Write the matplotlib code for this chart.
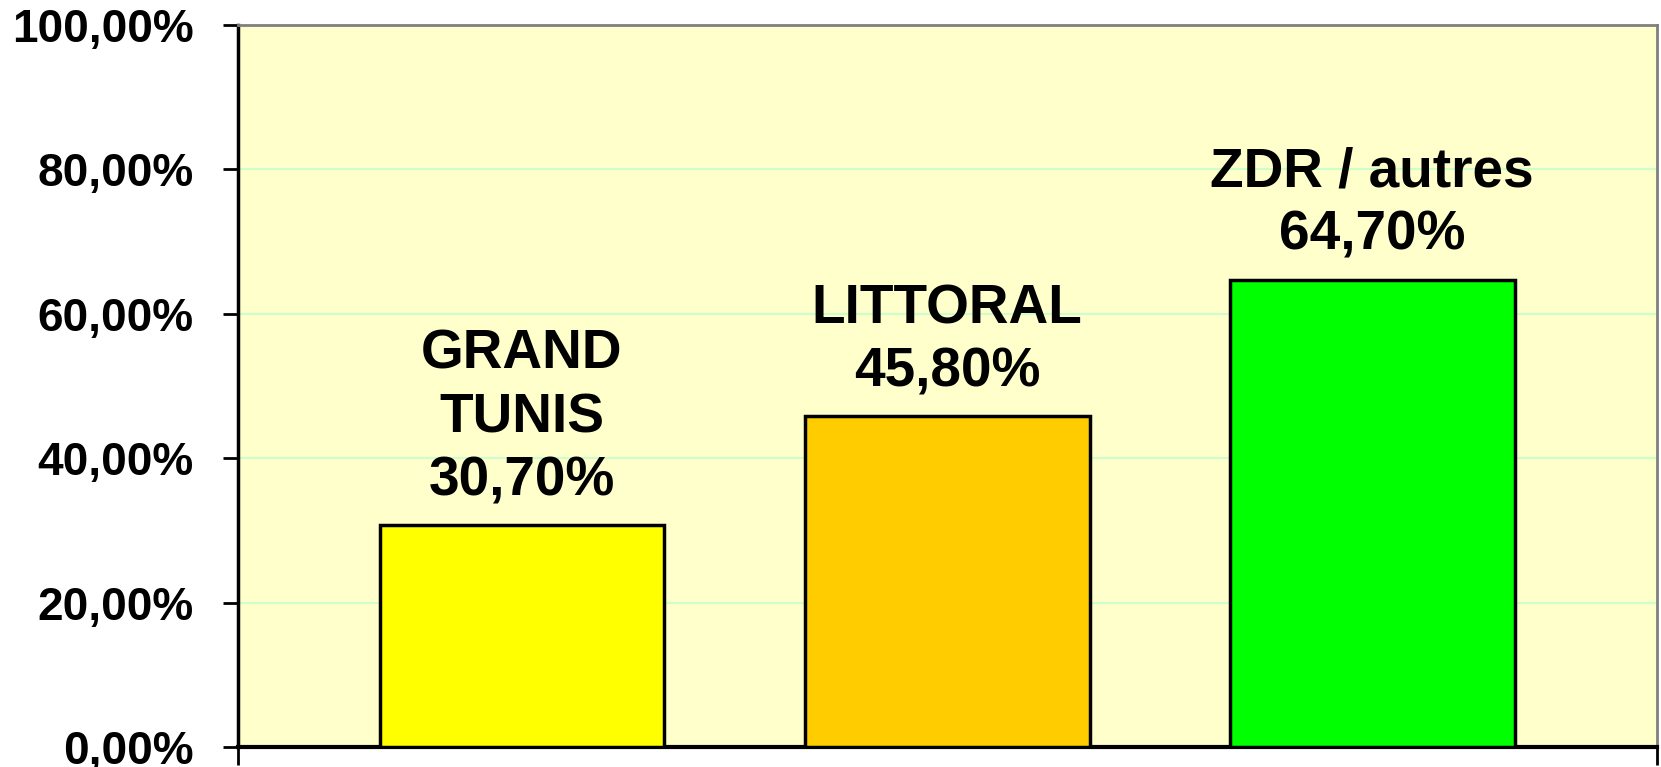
import numpy as np
import matplotlib.pyplot as plt
from matplotlib.ticker import FuncFormatter

regions = ['GRAND\nTUNIS', 'LITTORAL', 'ZDR / autres']
values = [30.7, 45.8, 64.7]
colors = ['#FFFF00', '#FFCC00', '#00FF00']

plt.rcParams['font.family'] = ['Liberation Sans', 'DejaVu Sans']

fig = plt.figure(figsize=(16.61, 7.67), dpi=100)
ax = fig.add_axes([0.1433, 0.0261, 0.8543, 0.9413])
ax.set_facecolor('#FFFFCC')

x = np.arange(len(values))
ax.bar(x, values, width=0.67, color=colors, edgecolor='black', linewidth=2.5, zorder=3)

for xi, v, name in zip(x, values, regions):
    label = name + '\n' + f'{v:.2f}%'.replace('.', ',')
    ax.annotate(label, (xi, v), xytext=(0, 13), textcoords='offset points',
                ha='center', va='bottom', fontsize=39.6, fontweight='bold',
                linespacing=1.28, zorder=4)

ax.set_xlim(-0.668, 2.67)
ax.set_ylim(0, 100)
ax.set_yticks(np.arange(0, 101, 20))
ax.yaxis.set_major_formatter(FuncFormatter(lambda v, p: f'{v:.2f}%'.replace('.', ',')))
ax.tick_params(axis='y', labelsize=33, length=11, width=2, pad=21)
for lab in ax.get_yticklabels():
    lab.set_fontweight('bold')
ax.set_xticks([-0.668, 2.67])
ax.set_xticklabels([])
ax.tick_params(axis='x', length=13, width=2)

ax.grid(axis='y', color='#CCFFCC', linewidth=1.5, zorder=0)
ax.set_axisbelow(True)

ax.spines['left'].set_linewidth(2.5)
ax.spines['bottom'].set_linewidth(3)
ax.spines['top'].set_color('#808080')
ax.spines['top'].set_linewidth(2)
ax.spines['right'].set_color('#808080')
ax.spines['right'].set_linewidth(2)

fig.savefig('out.png', dpi=100)
